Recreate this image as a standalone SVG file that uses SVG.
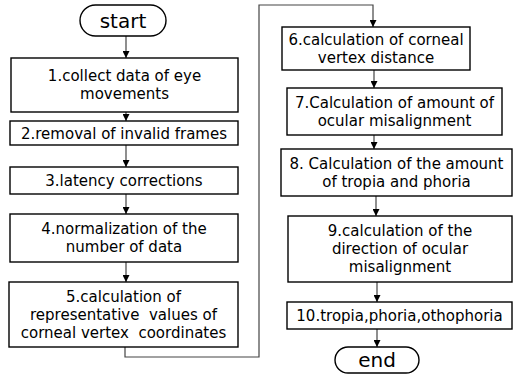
<svg xmlns="http://www.w3.org/2000/svg" width="514" height="381" viewBox="0 0 514 381">
<style>
.box{fill:#fff;stroke:#000;stroke-width:1.4}
.t{font-family:"DejaVu Sans",Verdana,sans-serif;font-size:15px;fill:#000;text-anchor:middle;white-space:pre}
.tt{font-family:"DejaVu Sans",Verdana,sans-serif;font-size:20px;fill:#000;text-anchor:middle}
.c{fill:none;stroke:#444;stroke-width:1.2}
</style>
<defs>
<marker id="ah" viewBox="0 0 10 10" refX="10" refY="5" markerWidth="7" markerHeight="7" markerUnits="userSpaceOnUse" orient="auto">
<path d="M0,0 L10,5 L0,10 z" fill="#000"/>
</marker>
</defs>
<rect width="514" height="381" fill="#fff"/>
<g id="connectors">
<path class="c" d="M126 36 V58" marker-end="url(#ah)"/>
<path class="c" d="M126 112 V121" marker-end="url(#ah)"/>
<path class="c" d="M126 145 V167" marker-end="url(#ah)"/>
<path class="c" d="M126 194 V214" marker-end="url(#ah)"/>
<path class="c" d="M126 262 V282" marker-end="url(#ah)"/>
<path class="c" d="M125 347 V357 H259 V5 H373 V27" marker-end="url(#ah)"/>
<path class="c" d="M374 70 V88" marker-end="url(#ah)"/>
<path class="c" d="M374 135 V149" marker-end="url(#ah)"/>
<path class="c" d="M376 196 V216" marker-end="url(#ah)"/>
<path class="c" d="M377 282 V302" marker-end="url(#ah)"/>
<path class="c" d="M377 329 V347" marker-end="url(#ah)"/>
</g>
<g id="start">
<rect class="box" x="80" y="5" width="86" height="31" rx="15.5"/>
<text class="tt" x="123" y="28">start</text>
</g>
<g id="n1">
<rect class="box" x="11" y="58" width="227" height="54"/>
<text class="t" x="124.5" y="81">1.collect data of eye</text>
<text class="t" x="124.5" y="99">movements</text>
</g>
<g id="n2">
<rect class="box" x="10" y="121" width="228" height="24"/>
<text class="t" x="124" y="138.5">2.removal of invalid frames</text>
</g>
<g id="n3">
<rect class="box" x="10" y="167" width="228" height="27"/>
<text class="t" x="124" y="186">3.latency corrections</text>
</g>
<g id="n4">
<rect class="box" x="10" y="214" width="228" height="48"/>
<text class="t" x="124" y="234">4.normalization of the</text>
<text class="t" x="124" y="252">number of data</text>
</g>
<g id="n5">
<rect class="box" x="9" y="282" width="229" height="65"/>
<text class="t" x="123.5" y="302">5.calculation of</text>
<text class="t" x="123.5" y="320">representative  values of</text>
<text class="t" x="123.5" y="338">corneal vertex  coordinates</text>
</g>
<g id="n6">
<rect class="box" x="282" y="27" width="188" height="43"/>
<text class="t" x="376" y="44.5">6.calculation of corneal</text>
<text class="t" x="376" y="62.5">vertex distance</text>
</g>
<g id="n7">
<rect class="box" x="287" y="88" width="215" height="47"/>
<text class="t" x="394.5" y="107.5">7.Calculation of amount of</text>
<text class="t" x="394.5" y="125.5">ocular misalignment</text>
</g>
<g id="n8">
<rect class="box" x="281" y="149" width="231" height="47"/>
<text class="t" x="396.5" y="168.5">8. Calculation of the amount</text>
<text class="t" x="396.5" y="186.5">of tropia and phoria</text>
</g>
<g id="n9">
<rect class="box" x="288" y="216" width="224" height="66"/>
<text class="t" x="400" y="236">9.calculation of the</text>
<text class="t" x="400" y="254">direction of ocular</text>
<text class="t" x="400" y="272">misalignment</text>
</g>
<g id="n10">
<rect class="box" x="287" y="302" width="225" height="27"/>
<text class="t" x="399.5" y="321">10.tropia,phoria,othophoria</text>
</g>
<g id="end">
<rect class="box" x="335" y="347" width="84" height="26" rx="13"/>
<text class="tt" x="377" y="367">end</text>
</g>
</svg>
